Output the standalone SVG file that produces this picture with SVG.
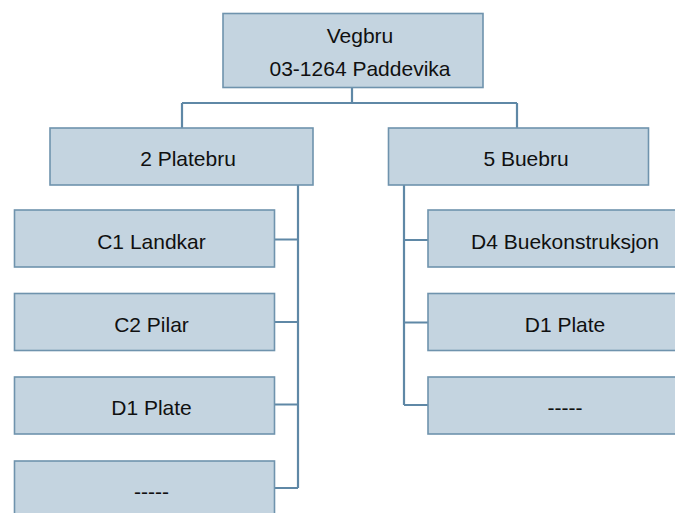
<svg xmlns="http://www.w3.org/2000/svg" width="675" height="513" viewBox="0 0 675 513">
<style>
.box{fill:#c4d4e0;stroke:#6f93ad;stroke-width:1.6}
.t{font-family:"Liberation Sans",Arial,sans-serif;font-size:21px;fill:#101010;text-anchor:middle}
.c{fill:none;stroke:#5f88a6;stroke-width:2.2}
</style>
<rect width="675" height="513" fill="#ffffff"/>
<g id="connectors">
<path class="c" d="M352,87 V103 M182,103 H517 M182,103 V128 M517,103 V128"/>
<path class="c" d="M298,185 V488 M274,239.5 H298 M274,322 H298 M274,404.5 H298 M274,488 H298"/>
<path class="c" d="M404,185 V405 M404,240 H428 M404,322.5 H428 M404,405 H428"/>
</g>
<g id="root"><rect class="box" x="223" y="13.5" width="260" height="74"/><text class="t" x="360" y="43">Vegbru</text><text class="t" x="360" y="75.5">03-1264 Paddevika</text></g>
<g id="platebru"><rect class="box" x="50" y="128" width="263" height="57"/><text class="t" x="188" y="166">2 Platebru</text></g>
<g id="buebru"><rect class="box" x="388.5" y="128" width="260" height="57"/><text class="t" x="526" y="166">5 Buebru</text></g>
<g id="c1"><rect class="box" x="14.5" y="210" width="260" height="57"/><text class="t" x="151.5" y="248.5">C1 Landkar</text></g>
<g id="c2"><rect class="box" x="14.5" y="293.5" width="260" height="57"/><text class="t" x="151.5" y="331.5">C2 Pilar</text></g>
<g id="d1l"><rect class="box" x="14.5" y="377" width="260" height="57"/><text class="t" x="151.5" y="415">D1 Plate</text></g>
<g id="dashl"><rect class="box" x="14.5" y="461" width="260" height="60"/><text class="t" x="151.5" y="499">-----</text></g>
<g id="d4"><rect class="box" x="428" y="210" width="260" height="57"/><text class="t" x="565" y="248.5">D4 Buekonstruksjon</text></g>
<g id="d1r"><rect class="box" x="428" y="293.5" width="260" height="57"/><text class="t" x="565" y="331.5">D1 Plate</text></g>
<g id="dashr"><rect class="box" x="428" y="377" width="260" height="57"/><text class="t" x="565" y="415">-----</text></g>
</svg>
